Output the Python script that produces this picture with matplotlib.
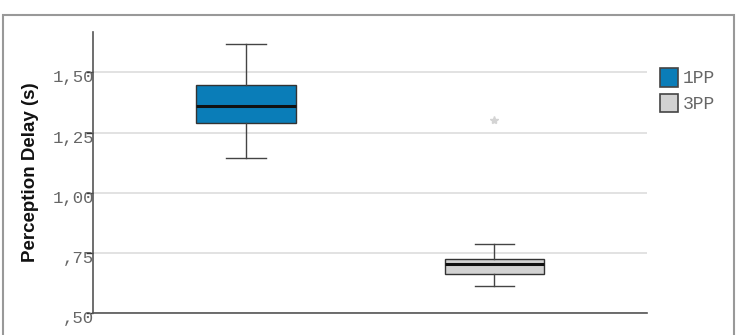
import matplotlib
matplotlib.use("Agg")
import matplotlib.pyplot as plt
from matplotlib.patches import Patch, Rectangle
from matplotlib.transforms import ScaledTranslation

groups = ["1PP", "3PP"]
q1 = [1.291, 0.662]
median = [1.361, 0.703]
q3 = [1.447, 0.725]
whisker_low = [1.143, 0.615]
whisker_high = [1.619, 0.788]
outliers = [[], [1.302]]
colors = ["#0a7db8", "#d2d2d2"]
yticks = [0.50, 0.75, 1.00, 1.25, 1.50]
ytick_labels = [",50", ",75", "1,00", "1,25", "1,50"]

fig = plt.figure(figsize=(7.4, 3.35), dpi=100)
ax = fig.add_axes([93/740, 1 - 313.3/335, (647-93)/740, (313.3-32)/335])

stats = []
for i, g in enumerate(groups):
    stats.append(dict(label=g, med=median[i], q1=q1[i], q3=q3[i],
                      whislo=whisker_low[i], whishi=whisker_high[i],
                      fliers=outliers[i]))

bp = ax.bxp(stats, positions=[1, 2], widths=0.4, patch_artist=True,
            showfliers=True,
            boxprops=dict(edgecolor="#333333", linewidth=1.0),
            medianprops=dict(color="#111111", linewidth=2.2),
            whiskerprops=dict(color="#444444", linewidth=1.0),
            capprops=dict(color="#444444", linewidth=1.0),
            capwidths=0.16,
            flierprops=dict(marker="*", markersize=6, markerfacecolor="#d4d4d4",
                            markeredgecolor="#d4d4d4"))
for patch, c in zip(bp["boxes"], colors):
    patch.set_facecolor(c)

ax.set_xlim(0.384, 2.614)
ax.set_ylim(0.5, 1.667)
ax.set_yticks(yticks)
ax.set_yticklabels(ytick_labels, family="Liberation Mono", fontsize=12.5, color="#666666")
ax.set_xticks([])
ax.tick_params(axis="y", length=5, width=1, color="#333333", direction="out", pad=-6)
offset = ScaledTranslation(0, -4/100, fig.dpi_scale_trans)
for lab in ax.get_yticklabels():
    lab.set_transform(lab.get_transform() + offset)
ax.yaxis.grid(True, color="#dddddd", linewidth=1.2)
ax.set_axisbelow(True)
for s in ["top", "right"]:
    ax.spines[s].set_visible(False)
for s in ["left", "bottom"]:
    ax.spines[s].set_color("#555555")
    ax.spines[s].set_linewidth(1.2)

fig.text(31/740, 1 - 172/335, "Perception Delay (s)", rotation=90,
         ha="center", va="center", fontsize=13.5, fontweight="bold",
         family="Liberation Sans", color="#111111")

handles = [Patch(facecolor=colors[i], edgecolor="#444444", linewidth=1.2, label=groups[i])
           for i in range(len(groups))]
fig.legend(handles=handles, loc="upper left", bbox_to_anchor=(660/740, 1 - 68/335),
           frameon=False, prop=dict(family="Liberation Mono", size=13),
           labelcolor="#666666", handlelength=1.0, handleheight=1.2,
           handletextpad=0.25, labelspacing=0.35, borderpad=0, borderaxespad=0)

fig.add_artist(Rectangle((3/740, -0.1), (734-3)/740, 0.1 + 1 - 15/335,
                         transform=fig.transFigure, fill=False,
                         edgecolor="#999999", linewidth=1.5, clip_on=False))

fig.savefig("out.png", dpi=100)
